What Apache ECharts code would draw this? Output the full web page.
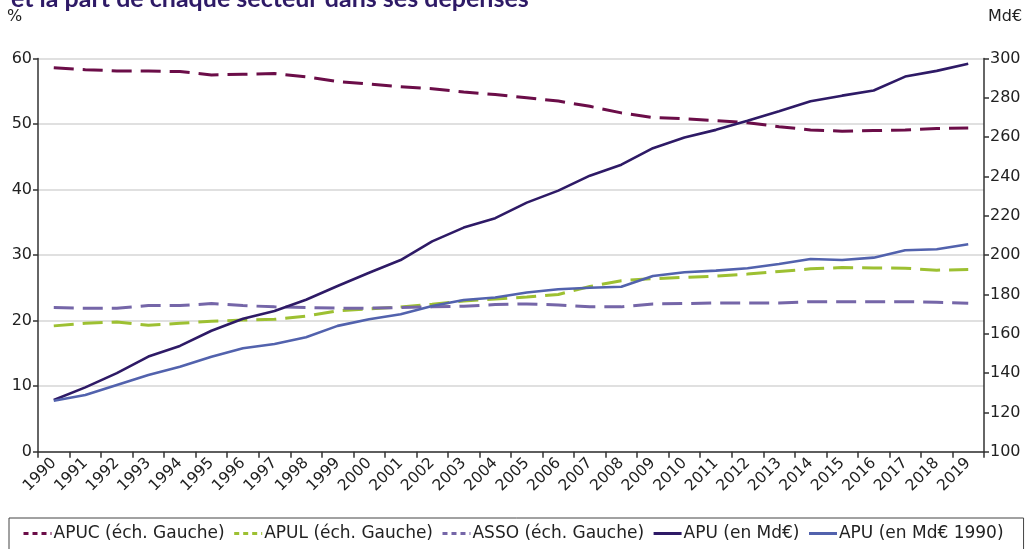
<!DOCTYPE html>
<html><head><meta charset="utf-8">
<script src="https://cdn.jsdelivr.net/npm/echarts@6/dist/echarts.min.js"></script>
<style>html,body{margin:0;padding:0;background:#fff}#c{width:1031px;height:549px}</style>
</head><body><div id="c"></div>
<script>
const years = ['1990','1991','1992','1993','1994','1995','1996','1997','1998','1999','2000','2001','2002','2003','2004','2005','2006','2007','2008','2009','2010','2011','2012','2013','2014','2015','2016','2017','2018','2019'];
const apuc = [58.6,58.3,58.1,58.1,58.0,57.5,57.6,57.7,57.2,56.5,56.1,55.7,55.4,54.9,54.5,54.0,53.5,52.7,51.7,51.0,50.8,50.5,50.2,49.6,49.1,48.9,49.0,49.1,49.3,49.4];
const apul = [19.2,19.6,19.8,19.3,19.6,19.9,20.1,20.2,20.7,21.5,21.8,22.1,22.5,23.0,23.3,23.6,24.0,25.2,26.1,26.4,26.6,26.8,27.1,27.5,27.9,28.1,28.05,28.0,27.7,27.8];
const asso = [22.0,21.9,21.9,22.3,22.3,22.6,22.3,22.1,22.0,21.9,21.9,22.0,22.1,22.2,22.45,22.55,22.4,22.1,22.1,22.55,22.6,22.7,22.7,22.7,22.9,22.9,22.9,22.9,22.8,22.65];
const apuMd = [126.3,132.7,140.0,148.4,153.8,161.5,167.6,171.6,177.3,184.3,191.0,197.5,207.0,214.0,218.8,226.7,232.8,240.4,246.0,254.4,259.8,263.7,268.3,273.2,278.3,281.1,283.7,290.8,293.7,297.3];
const apuMd1990 = [125.9,128.8,133.9,139.0,143.2,148.3,152.6,154.8,158.2,164.0,167.4,169.9,174.1,177.2,178.4,181.0,182.6,183.4,183.9,189.4,191.3,192.1,193.3,195.5,198.0,197.5,198.7,202.5,203.0,205.5];
const leftTicks = {min:0, max:60, interval:10};
const rightTicks = {min:100, max:300, interval:20};
const names = ['APUC (éch. Gauche)','APUL (éch. Gauche)','ASSO (éch. Gauche)','APU (en Md€)','APU (en Md€ 1990)'];
const colors = ['#6b0d48','#9dc032','#7566a8','#2e1a66','#5262ad'];

const FONT = '"DejaVu Sans", sans-serif';
const chart = echarts.init(document.getElementById('c'), null, {renderer:'canvas'});
function dashed(i, data, yIdx){
  return {name:names[i], type:'line', data:data, yAxisIndex:yIdx, symbol:'none', showSymbol:false, smooth:false,
    lineStyle:{color:colors[i], width:3, type:[20,9]}, itemStyle:{color:colors[i]}, z:2};
}
function solid(i, data, yIdx){
  return {name:names[i], type:'line', data:data, yAxisIndex:yIdx, symbol:'none', showSymbol:false, smooth:false,
    lineStyle:{color:colors[i], width:2.6, type:'solid'}, itemStyle:{color:colors[i]}, z:3};
}
chart.setOption({
  animation:false,
  backgroundColor:'#fff',
  title:{text:'et la part de chaque secteur dans ses dépenses', left:6, top:-19,
    textStyle:{fontFamily:'Lato, sans-serif', fontSize:25, fontWeight:'bold', color:'#2e1a66'}},
  graphic:[
    {type:'text', left:7, top:9, style:{text:'%', font:'16px '+FONT, fill:'#222'}},
    {type:'text', left:988, top:9, style:{text:'Md€', font:'16px '+FONT, fill:'#222'}}
  ],
  grid:{left:38, right:47, top:58.5, bottom:97.3, containLabel:false},
  legend:{left:9, top:518, padding:[7,20,14,13], itemGap:8, itemWidth:28, itemHeight:12,
    orient:'horizontal', itemStyle:{opacity:0},
    borderColor:'#444', borderWidth:1, borderRadius:0,
    textStyle:{fontFamily:FONT, fontSize:17, color:'#222', padding:[0,0,0,-3]},
    data:[
      {name:names[0], lineStyle:{type:[5,4], width:3}},
      {name:names[1], lineStyle:{type:[5,4], width:3}},
      {name:names[2], lineStyle:{type:[5,4], width:3}},
      {name:names[3], lineStyle:{type:'solid', width:3}},
      {name:names[4], lineStyle:{type:'solid', width:3}}
    ]},
  xAxis:{type:'category', data:years, boundaryGap:true,
    axisLine:{lineStyle:{color:'#333', width:1.5}},
    axisTick:{show:true, alignWithLabel:false, length:6, lineStyle:{color:'#333', width:1.5}},
    axisLabel:{rotate:45, interval:0, fontFamily:FONT, fontSize:15.5, color:'#222', margin:9},
    splitLine:{show:false}},
  yAxis:[
    {type:'value', min:leftTicks.min, max:leftTicks.max, interval:leftTicks.interval, position:'left',
      axisLine:{show:true, lineStyle:{color:'#333', width:1.5}},
      axisTick:{show:true, length:5, lineStyle:{color:'#333', width:1.5}},
      axisLabel:{fontFamily:FONT, fontSize:16, color:'#222', margin:6},
      splitLine:{show:true, lineStyle:{color:'#d6d6d6', width:1.5}}},
    {type:'value', min:rightTicks.min, max:rightTicks.max, interval:rightTicks.interval, position:'right',
      axisLine:{show:true, lineStyle:{color:'#333', width:1.5}},
      axisTick:{show:true, length:5, lineStyle:{color:'#333', width:1.5}},
      axisLabel:{fontFamily:FONT, fontSize:16, color:'#222', margin:6},
      splitLine:{show:false}}
  ],
  series:[
    dashed(0, apuc, 0),
    dashed(1, apul, 0),
    dashed(2, asso, 0),
    solid(3, apuMd, 1),
    solid(4, apuMd1990, 1)
  ]
});
</script></body></html>
